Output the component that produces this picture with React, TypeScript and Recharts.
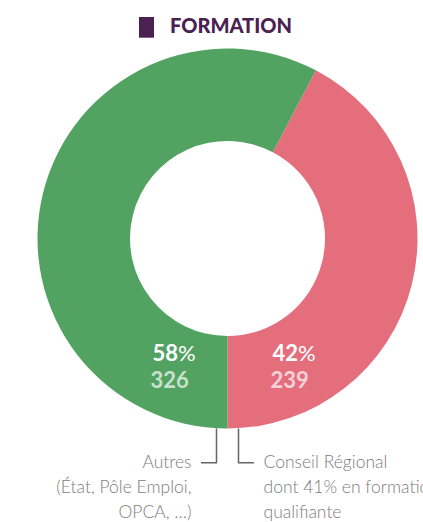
import React from "react";
import { PieChart, Pie, Cell } from "recharts";

const categories = ["Conseil Régional", "Autres"];
const values = [239, 326];
const percents = [42, 58];
const captions = [
  ["Conseil Régional", "dont 41% en formation", "qualifiante"],
  ["Autres", "(État, Pôle Emploi,", "OPCA, …)"],
];
const colors = ["#e56e7d", "#52a262"];
const title = "FORMATION";

const data = categories.map((name, i) => ({ name, value: values[i], pct: percents[i], caption: captions[i] }));

const FONT = "Lato, 'Noto Sans', sans-serif";

const renderLabel = (props: any) => {
  const { cx, cy, outerRadius, index } = props;
  const d = data[index];
  const side = index === 0 ? 1 : -1;
  const innerX = side > 0 ? cx + 45 : cx - 75;
  const lineX = cx + side * 11;
  const elbowY = cy + 224.2;
  const hEnd = cx + side * 26.5;
  const textX = cx + side * 36;
  const anchor = side > 0 ? "start" : "end";
  return (
    <g key={`lbl-${index}`}>
      <text x={innerX} y={cy + 122.5} fill="#ffffff" fontFamily={FONT} fontSize={22}>
        <tspan fontWeight={700}>{d.pct}</tspan>
        <tspan fontWeight={400}>%</tspan>
      </text>
      <text x={innerX - 2} y={cy + 149.5} fill="#ffffff" fillOpacity={0.7} fontFamily={FONT} fontSize={22} fontWeight={700}>
        {d.value}
      </text>
      <polyline
        points={`${lineX},${cy + outerRadius} ${lineX},${elbowY} ${hEnd},${elbowY}`}
        fill="none"
        stroke="#666666"
        strokeWidth={1.5}
      />
      {d.caption.map((line: string, i: number) => (
        <text
          key={i}
          x={textX}
          y={cy + 229.2 + i * 25.3}
          textAnchor={anchor}
          fill="#7d7d7d"
          fontFamily={FONT}
          fontWeight={300}
          fontSize={17.5}
        >
          {line}
        </text>
      ))}
    </g>
  );
};

export default function App() {
  return (
    <div style={{ position: "absolute", left: 0, top: 0, width: 423, height: 522, background: "#fff", overflow: "hidden" }}>
      <svg width={423} height={50} style={{ position: "absolute", left: 0, top: 0 }}>
        <rect x={139} y={17} width={15} height={20.7} fill="#4a2150" />
        <text x={170} y={33.3} fill="#4a2150" fontFamily={FONT} fontWeight={900} fontSize={20}>
          {title}
        </text>
      </svg>
      <div style={{ position: "absolute", left: 0, top: 0 }}>
        <PieChart width={423} height={522} margin={{ top: 0, right: 0, bottom: 0, left: 0 }}>
          <Pie
            data={data}
            dataKey="value"
            nameKey="name"
            cx={227.5}
            cy={238.5}
            innerRadius={97.5}
            outerRadius={190}
            startAngle={-90}
            endAngle={270}
            stroke="none"
            isAnimationActive={false}
            label={renderLabel}
            labelLine={false}
          >
            {data.map((d, i) => (
              <Cell key={d.name} fill={colors[i]} />
            ))}
          </Pie>
        </PieChart>
      </div>
    </div>
  );
}
